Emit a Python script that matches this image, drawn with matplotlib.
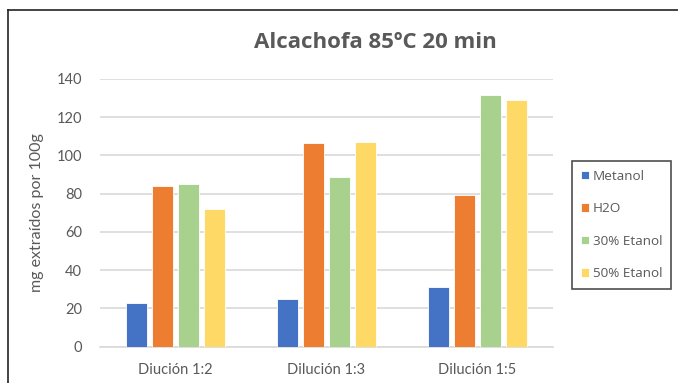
import numpy as np
import matplotlib
matplotlib.use('Agg')
import matplotlib.pyplot as plt
from matplotlib.lines import Line2D

# Datos: mg extraidos por 100 g, alcachofa a 85 C durante 20 min
categorias = ['Diución 1:2', 'Dilución 1:3', 'Dilución 1:5']
metanol = [22.7, 24.9, 31.2]
h2o = [84.3, 106.6, 79.2]
etanol_30 = [85.0, 88.5, 131.8]
etanol_50 = [72.2, 107.3, 128.9]

series = ['Metanol', 'H2O', '30% Etanol', '50% Etanol']
colores = ['#4472C4', '#ED7D31', '#A9D18E', '#FFD966']
valores = [metanol, h2o, etanol_30, etanol_50]

plt.rcParams['font.family'] = ['Lato', 'DejaVu Sans']

fig = plt.figure(figsize=(6.78, 3.83), dpi=100)
ax = fig.add_axes([100 / 678, 36.3 / 383, 453 / 678, 267.7 / 383])

x = np.arange(len(categorias))
paso = 0.172
ancho = 0.14
for i, (nombre, col, vals) in enumerate(zip(series, colores, valores)):
    ax.bar(x + (i - 1.5) * paso, vals, width=ancho, color=col, label=nombre,
           edgecolor='white', linewidth=0.6, zorder=3)

ax.set_xlim(-0.5, 2.5)
ax.set_ylim(0, 140)
ax.set_yticks(range(0, 141, 20))
ax.set_xticks(x)
ax.set_xticklabels(categorias)
ax.grid(axis='y', color='#D9D9D9', linewidth=1.2, zorder=0)
for s in ['top', 'right', 'left']:
    ax.spines[s].set_visible(False)
ax.spines['bottom'].set_color('#D9D9D9')
ax.spines['bottom'].set_linewidth(1.2)
ax.tick_params(axis='both', length=0, colors='#595959', labelsize=10.5)
ax.tick_params(axis='y', pad=13)
ax.tick_params(axis='x', pad=12)

ax.set_ylabel('mg extraídos por 100g', color='#595959', fontsize=11.5, labelpad=9)

fig.text(375 / 678, 1 - 43 / 383, 'Alcachofa 85ºC 20 min', ha='center', va='center',
         fontsize=16, fontweight='bold', color='#595959',
         family=['Open Sans', 'DejaVu Sans'])

# borde del area del grafico (solo arriba e izquierda visibles)
fig.add_artist(Line2D([8 / 678, 1.01], [1 - 10 / 383, 1 - 10 / 383], color='#222222', linewidth=1.2))
fig.add_artist(Line2D([8 / 678, 8 / 678], [1 - 10 / 383, -0.01], color='#222222', linewidth=1.2))

leg = fig.legend(loc='upper left', bbox_to_anchor=(572 / 678, 1 - 161 / 383),
                 borderaxespad=0, frameon=True, fancybox=False, edgecolor='#222222',
                 handlelength=0.6, handleheight=0.6, handletextpad=0.3,
                 labelspacing=1.45, borderpad=0.65,
                 prop={'family': 'Open Sans', 'size': 9.7})
leg.get_frame().set_linewidth(1.2)
for t in leg.get_texts():
    t.set_color('#595959')

plt.savefig('out.png', dpi=100)
